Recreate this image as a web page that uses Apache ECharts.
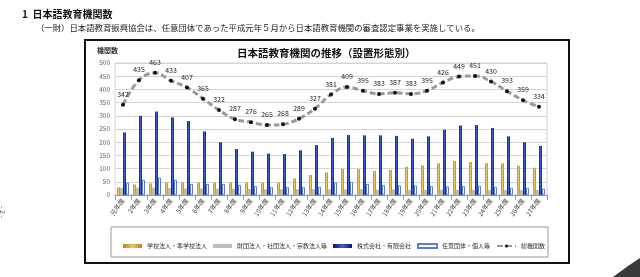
<!DOCTYPE html>
<html>
<head>
<meta charset="utf-8">
<script src="https://cdn.jsdelivr.net/npm/echarts@6/dist/echarts.min.js"></script>
<style>
    html, body { margin: 0; padding: 0; background: #fff; }
    #chart { width: 640px; height: 277px; }
</style>
</head>
<body>
<div id="chart"></div>
<script>
    // 年度
    var years = ['元年度', '2年度', '3年度', '4年度', '5年度', '6年度', '7年度', '8年度', '9年度',
        '10年度', '11年度', '12年度', '13年度', '14年度', '15年度', '16年度', '17年度', '18年度',
        '19年度', '20年度', '21年度', '22年度', '23年度', '24年度', '25年度', '26年度', '27年度'];

    // 学校法人・準学校法人
    var gakkou = [29, 40, 44, 48, 48, 48, 48, 48, 48, 48, 48, 63, 76, 86, 99, 98, 92, 95, 107, 112, 120, 129, 125, 121, 120, 111, 103];
    // 財団法人・社団法人・宗教法人等
    var zaidan = [26, 28, 28, 26, 25, 25, 24, 24, 23, 22, 22, 22, 22, 22, 22, 22, 21, 21, 20, 20, 20, 20, 20, 20, 19, 19, 19];
    // 株式会社・有限会社
    var kabushiki = [237, 300, 316, 294, 280, 241, 200, 174, 164, 157, 155, 169, 189, 216, 227, 226, 226, 224, 213, 222, 247, 263, 265, 254, 222, 200, 186];
    // 任意団体・個人等
    var nini = [47, 58, 66, 58, 42, 42, 42, 38, 34, 30, 30, 30, 31, 48, 50, 42, 38, 36, 36, 34, 33, 34, 35, 31, 27, 27, 24];
    // 総機関数
    var total = [342, 435, 463, 433, 407, 365, 322, 287, 276, 265, 268, 289, 327, 381, 409, 395, 383, 387, 383, 395, 426, 449, 451, 430, 393, 359, 334];

    var yTicks = [0, 50, 100, 150, 200, 250, 300, 350, 400, 450, 500];

    var font = '"Noto Sans CJK JP", "Noto Sans", sans-serif';
    var chart = echarts.init(document.getElementById('chart'));

    var blueGrad = new echarts.graphic.LinearGradient(0, 0, 1, 0, [
        {offset: 0, color: '#0c1566'},
        {offset: 0.5, color: '#3d5fd6'},
        {offset: 1, color: '#0c1566'}
    ]);
    var goldGrad = new echarts.graphic.LinearGradient(0, 0, 1, 0, [
        {offset: 0, color: '#b5852a'},
        {offset: 0.5, color: '#e8c661'},
        {offset: 1, color: '#b5852a'}
    ]);

    var option = {
        animation: false,
        textStyle: {fontFamily: font},
        grid: {left: 115, right: 93, top: 63, bottom: 82, show: true, borderColor: '#d4d4d4', borderWidth: 1},
        graphic: [
            {type: 'text', left: 22, top: 9, style: {text: '1  日本語教育機関数', fill: '#111', font: 'bold 10px ' + font}},
            {type: 'text', left: 36, top: 24, style: {text: '（一財）日本語教育振興協会は、任意団体であった平成元年５月から日本語教育機関の審査認定事業を実施している。', fill: '#222', font: '8.4px ' + font}},
            {type: 'rect', shape: {x: 85, y: 40, width: 484, height: 223}, style: {fill: 'none', stroke: '#111', lineWidth: 2}, z: -1},
            {type: 'text', left: 237, top: 48, style: {text: '日本語教育機関の推移（設置形態別）', fill: '#111', font: 'bold 10.5px ' + font}},
            {type: 'text', left: 97, top: 47, style: {text: '機関数', fill: '#333', font: 'bold 7px ' + font}},
            {type: 'rect', shape: {x: 111, y: 227, width: 437, height: 30}, style: {fill: '#fff', stroke: '#9a9a9a', lineWidth: 1}, z: -1},
            {type: 'text', x: 6, y: 206, rotation: -Math.PI / 2, style: {text: '- 2 -', fill: '#555', font: '7px ' + font}},
            {type: 'polygon', shape: {points: [[640, 258], [640, 277], [613, 277], [628, 266]]}, style: {fill: '#3b3b3b'}}
        ],
        legend: {
            left: 118,
            top: 238,
            itemWidth: 19,
            itemHeight: 4,
            itemGap: 6,
            textStyle: {fontSize: 6, color: '#333'},
            data: [
                {name: '学校法人・準学校法人', icon: 'rect'},
                {name: '財団法人・社団法人・宗教法人等', icon: 'rect'},
                {name: '株式会社・有限会社', icon: 'rect'},
                {name: '任意団体・個人等', icon: 'rect'},
                {name: '総機関数'}
            ]
        },
        xAxis: {
            type: 'category',
            data: years,
            axisTick: {show: true, lineStyle: {color: '#999'}},
            axisLine: {lineStyle: {color: '#999'}},
            axisLabel: {interval: 0, rotate: 55, fontSize: 6.5, color: '#444', margin: 4}
        },
        yAxis: {
            type: 'value',
            min: yTicks[0],
            max: yTicks[yTicks.length - 1],
            interval: 50,
            axisLine: {show: false},
            axisTick: {show: false},
            axisLabel: {fontSize: 6.5, color: '#666', margin: 5},
            splitLine: {lineStyle: {color: '#d4d4d4'}}
        },
        series: [
            {name: '学校法人・準学校法人', type: 'bar', data: gakkou, barWidth: 3, barGap: '0%',
                itemStyle: {color: goldGrad}},
            {name: '財団法人・社団法人・宗教法人等', type: 'bar', data: zaidan, barWidth: 3,
                itemStyle: {color: '#bcbcbc'}},
            {name: '株式会社・有限会社', type: 'bar', data: kabushiki, barWidth: 3,
                itemStyle: {color: blueGrad}},
            {name: '任意団体・個人等', type: 'bar', data: nini, barWidth: 3,
                itemStyle: {color: '#fff', borderColor: '#5b7bd5', borderWidth: 1}},
            {name: '総機関数', type: 'line', data: total, smooth: 0.4, symbol: 'circle', symbolSize: 4,
                itemStyle: {color: '#111'},
                lineStyle: {color: '#9a9a9a', width: 3, type: [6, 3]},
                label: {show: true, position: 'top', distance: 5, fontSize: 7, color: '#222'}}
        ]
    };

    chart.setOption(option);
</script>
</body>
</html>
